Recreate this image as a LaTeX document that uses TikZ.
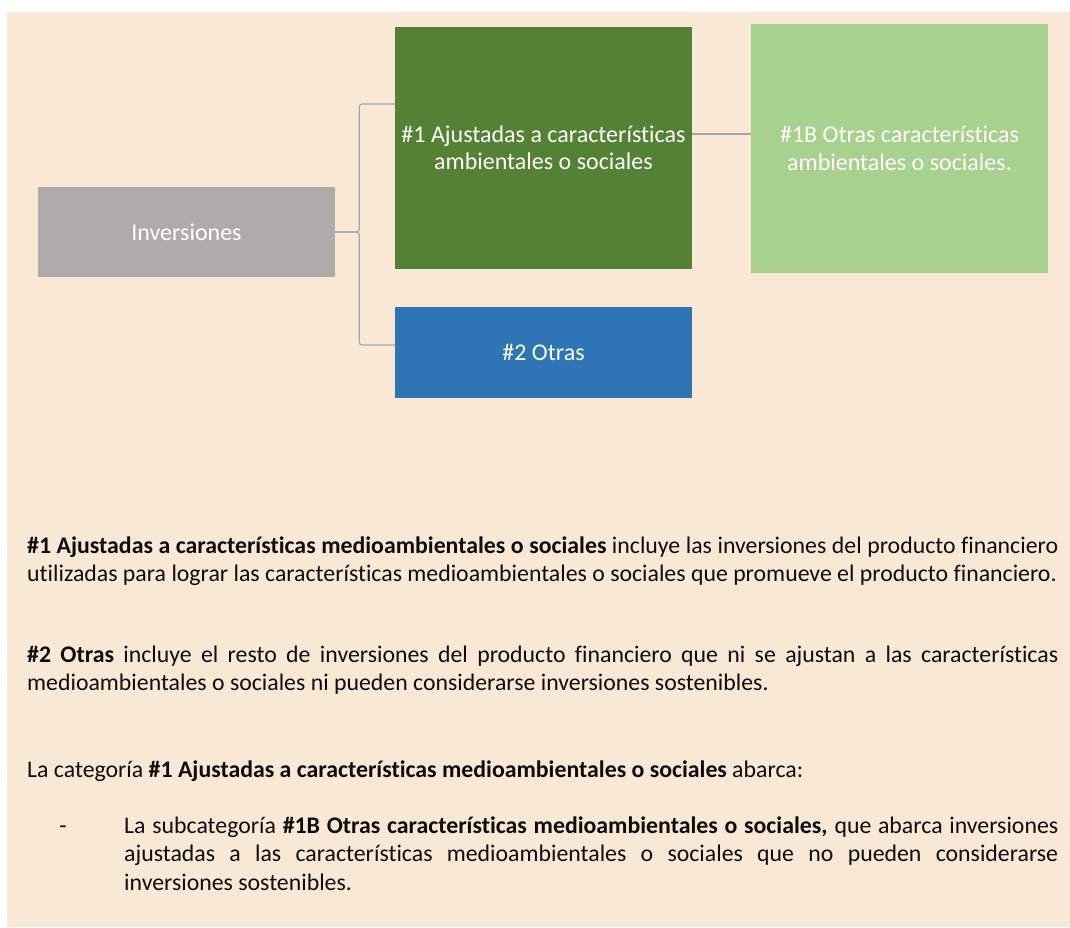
\documentclass[tikz,border=0pt]{standalone}
\usepackage{fontspec}
\setmainfont{Carlito}[Ligatures=NoCommon]
\usetikzlibrary{positioning}
\definecolor{peach}{HTML}{FAE8D7}
\definecolor{invgray}{HTML}{AFABAB}
\definecolor{darkgreen}{HTML}{548235}
\definecolor{lightgreen}{HTML}{A9D18E}
\definecolor{otrasblue}{HTML}{2E75B6}
\definecolor{linkgray}{HTML}{A6A6A6}
\definecolor{bodytext}{HTML}{0D0D0D}
\tikzset{
  box/.style={rectangle, minimum width=297pt, inner sep=0pt, align=center,
    text=white, font=\fontsize{24}{27.5}\selectfont},
  link/.style={draw=linkgray, line width=1.2pt, rounded corners=3pt},
  para/.style={anchor=base west, inner sep=0pt, align=justify, text=bodytext,
    font=\fontsize{23.8}{28.5}\selectfont}
}
\begin{document}
\hyphenpenalty=10000
\begin{tikzpicture}[x=1pt,y=-1pt]
\useasboundingbox (0,0) rectangle (1070,927);
\fill[peach] (7,12) rectangle (1070,927);

% boxes
\node[box, fill=invgray, minimum height=90pt] (inv) at (186.5,232) {Inversiones};
\node[box, fill=darkgreen, minimum height=242pt] (aj) at (543.5,148) {\#1 Ajustadas a características\\ambientales o sociales};
\node[box, fill=lightgreen, minimum height=249pt] (otc) at (899.5,148.5) {\#1B Otras características\\ambientales o sociales.};
\node[box, fill=otrasblue, minimum height=91pt] (otras) at (543.5,352.5) {\#2 Otras};

% connectors
\draw[link] (inv.east) -- ++(24,0) |- ([yshift=44pt]aj.west);
\draw[link] (inv.east) -- ++(24,0) |- ([yshift=7.5pt]otras.west);
\draw[link] ([yshift=14pt]aj.east) -- ([yshift=14.5pt]otc.west);

% texts below
\node[para, text width=1031pt] (p1) at (27,553) {\textbf{\#1 Ajustadas a características medioambientales o sociales} incluye las inversiones del producto financiero\linebreak utilizadas para lograr las características medioambientales o sociales que promueve el producto financiero.};
\node[para, text width=1031pt] (p2) at (27,662) {\textbf{\#2 Otras} incluye el resto de inversiones del producto financiero que ni se ajustan a las características\linebreak medioambientales o sociales ni pueden considerarse inversiones sostenibles.};
\node[para, text width=1031pt] (p3) at (27,777) {La categoría \textbf{\#1 Ajustadas a características medioambientales o sociales} abarca:};
\node[para, anchor=base] (dash) at (63,833) {-};
\node[para, text width=934pt] (p4) at (124,833) {La subcategoría \textbf{\#1B Otras características medioambientales o sociales,} que abarca inversiones\linebreak ajustadas a las características medioambientales o sociales que no pueden considerarse\linebreak inversiones sostenibles.};
\end{tikzpicture}
\end{document}
